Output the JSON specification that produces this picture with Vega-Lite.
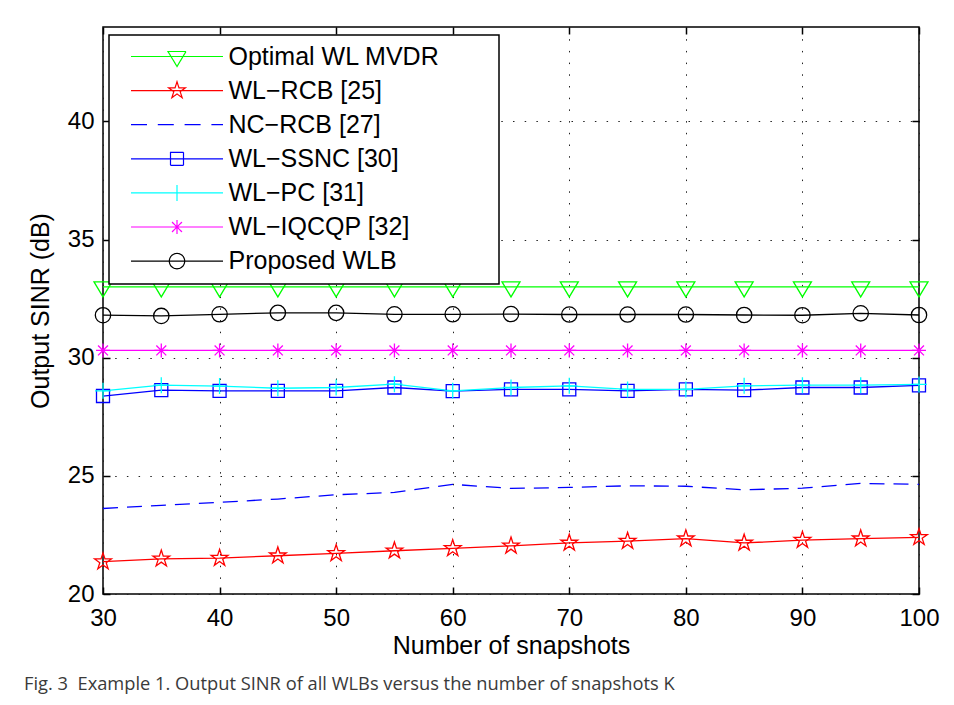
{
  "$schema": "https://vega.github.io/schema/vega-lite/v6.json",
  "width": 816,
  "height": 567,
  "autosize": "none",
  "padding": {"left": 103, "top": 27, "right": 35, "bottom": 111},
  "background": "white",
  "config": {
    "view": {"stroke": "#000", "strokeWidth": 1.5},
    "font": "Liberation Sans"
  },
  "title": {
    "text": "Fig. 3\u00a0\u00a0Example 1. Output SINR of all WLBs versus the number of snapshots K",
    "orient": "bottom",
    "anchor": "start",
    "frame": "group",
    "fontSize": 18.3,
    "font": "Open Sans",
    "fontWeight": "normal",
    "color": "#3a3a3a",
    "dx": -79,
    "offset": 18
  },
  "data": {
    "values": [
      {"K": 30, "series": "Optimal WL MVDR", "sinr": 33.0},
      {"K": 35, "series": "Optimal WL MVDR", "sinr": 33.0},
      {"K": 40, "series": "Optimal WL MVDR", "sinr": 33.0},
      {"K": 45, "series": "Optimal WL MVDR", "sinr": 33.0},
      {"K": 50, "series": "Optimal WL MVDR", "sinr": 33.0},
      {"K": 55, "series": "Optimal WL MVDR", "sinr": 33.0},
      {"K": 60, "series": "Optimal WL MVDR", "sinr": 33.0},
      {"K": 65, "series": "Optimal WL MVDR", "sinr": 33.0},
      {"K": 70, "series": "Optimal WL MVDR", "sinr": 33.0},
      {"K": 75, "series": "Optimal WL MVDR", "sinr": 33.0},
      {"K": 80, "series": "Optimal WL MVDR", "sinr": 33.0},
      {"K": 85, "series": "Optimal WL MVDR", "sinr": 33.0},
      {"K": 90, "series": "Optimal WL MVDR", "sinr": 33.0},
      {"K": 95, "series": "Optimal WL MVDR", "sinr": 33.0},
      {"K": 100, "series": "Optimal WL MVDR", "sinr": 33.0},
      {"K": 30, "series": "WL−RCB [25]", "sinr": 21.37},
      {"K": 35, "series": "WL−RCB [25]", "sinr": 21.49},
      {"K": 40, "series": "WL−RCB [25]", "sinr": 21.52},
      {"K": 45, "series": "WL−RCB [25]", "sinr": 21.62},
      {"K": 50, "series": "WL−RCB [25]", "sinr": 21.72},
      {"K": 55, "series": "WL−RCB [25]", "sinr": 21.83},
      {"K": 60, "series": "WL−RCB [25]", "sinr": 21.93},
      {"K": 65, "series": "WL−RCB [25]", "sinr": 22.04},
      {"K": 70, "series": "WL−RCB [25]", "sinr": 22.16},
      {"K": 75, "series": "WL−RCB [25]", "sinr": 22.24},
      {"K": 80, "series": "WL−RCB [25]", "sinr": 22.34},
      {"K": 85, "series": "WL−RCB [25]", "sinr": 22.16},
      {"K": 90, "series": "WL−RCB [25]", "sinr": 22.28},
      {"K": 95, "series": "WL−RCB [25]", "sinr": 22.34},
      {"K": 100, "series": "WL−RCB [25]", "sinr": 22.40},
      {"K": 30, "series": "NC−RCB [27]", "sinr": 23.62},
      {"K": 35, "series": "NC−RCB [27]", "sinr": 23.75},
      {"K": 40, "series": "NC−RCB [27]", "sinr": 23.88},
      {"K": 45, "series": "NC−RCB [27]", "sinr": 24.02},
      {"K": 50, "series": "NC−RCB [27]", "sinr": 24.20},
      {"K": 55, "series": "NC−RCB [27]", "sinr": 24.30},
      {"K": 60, "series": "NC−RCB [27]", "sinr": 24.64},
      {"K": 65, "series": "NC−RCB [27]", "sinr": 24.47},
      {"K": 70, "series": "NC−RCB [27]", "sinr": 24.51},
      {"K": 75, "series": "NC−RCB [27]", "sinr": 24.58},
      {"K": 80, "series": "NC−RCB [27]", "sinr": 24.56},
      {"K": 85, "series": "NC−RCB [27]", "sinr": 24.41},
      {"K": 90, "series": "NC−RCB [27]", "sinr": 24.48},
      {"K": 95, "series": "NC−RCB [27]", "sinr": 24.68},
      {"K": 100, "series": "NC−RCB [27]", "sinr": 24.64},
      {"K": 30, "series": "WL−SSNC [30]", "sinr": 28.38},
      {"K": 35, "series": "WL−SSNC [30]", "sinr": 28.63},
      {"K": 40, "series": "WL−SSNC [30]", "sinr": 28.60},
      {"K": 45, "series": "WL−SSNC [30]", "sinr": 28.60},
      {"K": 50, "series": "WL−SSNC [30]", "sinr": 28.60},
      {"K": 55, "series": "WL−SSNC [30]", "sinr": 28.74},
      {"K": 60, "series": "WL−SSNC [30]", "sinr": 28.59},
      {"K": 65, "series": "WL−SSNC [30]", "sinr": 28.66},
      {"K": 70, "series": "WL−SSNC [30]", "sinr": 28.66},
      {"K": 75, "series": "WL−SSNC [30]", "sinr": 28.60},
      {"K": 80, "series": "WL−SSNC [30]", "sinr": 28.66},
      {"K": 85, "series": "WL−SSNC [30]", "sinr": 28.63},
      {"K": 90, "series": "WL−SSNC [30]", "sinr": 28.74},
      {"K": 95, "series": "WL−SSNC [30]", "sinr": 28.74},
      {"K": 100, "series": "WL−SSNC [30]", "sinr": 28.83},
      {"K": 30, "series": "WL−PC [31]", "sinr": 28.60},
      {"K": 35, "series": "WL−PC [31]", "sinr": 28.84},
      {"K": 40, "series": "WL−PC [31]", "sinr": 28.80},
      {"K": 45, "series": "WL−PC [31]", "sinr": 28.71},
      {"K": 50, "series": "WL−PC [31]", "sinr": 28.74},
      {"K": 55, "series": "WL−PC [31]", "sinr": 28.88},
      {"K": 60, "series": "WL−PC [31]", "sinr": 28.60},
      {"K": 65, "series": "WL−PC [31]", "sinr": 28.74},
      {"K": 70, "series": "WL−PC [31]", "sinr": 28.81},
      {"K": 75, "series": "WL−PC [31]", "sinr": 28.66},
      {"K": 80, "series": "WL−PC [31]", "sinr": 28.66},
      {"K": 85, "series": "WL−PC [31]", "sinr": 28.81},
      {"K": 90, "series": "WL−PC [31]", "sinr": 28.84},
      {"K": 95, "series": "WL−PC [31]", "sinr": 28.84},
      {"K": 100, "series": "WL−PC [31]", "sinr": 28.87},
      {"K": 30, "series": "WL−IQCQP [32]", "sinr": 30.31},
      {"K": 35, "series": "WL−IQCQP [32]", "sinr": 30.31},
      {"K": 40, "series": "WL−IQCQP [32]", "sinr": 30.31},
      {"K": 45, "series": "WL−IQCQP [32]", "sinr": 30.31},
      {"K": 50, "series": "WL−IQCQP [32]", "sinr": 30.31},
      {"K": 55, "series": "WL−IQCQP [32]", "sinr": 30.31},
      {"K": 60, "series": "WL−IQCQP [32]", "sinr": 30.31},
      {"K": 65, "series": "WL−IQCQP [32]", "sinr": 30.31},
      {"K": 70, "series": "WL−IQCQP [32]", "sinr": 30.31},
      {"K": 75, "series": "WL−IQCQP [32]", "sinr": 30.31},
      {"K": 80, "series": "WL−IQCQP [32]", "sinr": 30.31},
      {"K": 85, "series": "WL−IQCQP [32]", "sinr": 30.31},
      {"K": 90, "series": "WL−IQCQP [32]", "sinr": 30.31},
      {"K": 95, "series": "WL−IQCQP [32]", "sinr": 30.31},
      {"K": 100, "series": "WL−IQCQP [32]", "sinr": 30.31},
      {"K": 30, "series": "Proposed WLB", "sinr": 31.80},
      {"K": 35, "series": "Proposed WLB", "sinr": 31.77},
      {"K": 40, "series": "Proposed WLB", "sinr": 31.84},
      {"K": 45, "series": "Proposed WLB", "sinr": 31.90},
      {"K": 50, "series": "Proposed WLB", "sinr": 31.90},
      {"K": 55, "series": "Proposed WLB", "sinr": 31.84},
      {"K": 60, "series": "Proposed WLB", "sinr": 31.84},
      {"K": 65, "series": "Proposed WLB", "sinr": 31.85},
      {"K": 70, "series": "Proposed WLB", "sinr": 31.83},
      {"K": 75, "series": "Proposed WLB", "sinr": 31.83},
      {"K": 80, "series": "Proposed WLB", "sinr": 31.83},
      {"K": 85, "series": "Proposed WLB", "sinr": 31.81},
      {"K": 90, "series": "Proposed WLB", "sinr": 31.80},
      {"K": 95, "series": "Proposed WLB", "sinr": 31.88},
      {"K": 100, "series": "Proposed WLB", "sinr": 31.81}
    ]
  },
  "resolve": {"axis": {"x": "independent", "y": "independent"}},
  "layer": [
    {
      "transform": [{"filter": "datum.series !== 'NC−RCB [27]'"}],
      "mark": {"type": "line", "strokeWidth": 1.3},
      "encoding": {
        "x": {
          "field": "K", "type": "quantitative",
          "scale": {"domain": [30, 100], "nice": false, "zero": false},
          "axis": {
            "orient": "bottom",
            "values": [30, 40, 50, 60, 70, 80, 90, 100],
            "grid": true, "gridDash": [1.5, 10.2], "gridColor": "#222", "gridWidth": 1,
            "domain": false,
            "tickSize": -7, "tickColor": "#000", "tickWidth": 1.5,
            "labelPadding": 19, "labelFontSize": 24, "labelColor": "#000", "labelFont": "Liberation Sans", "labelFlush": false,
            "title": "Number of snapshots", "titleFontSize": 25, "titleFontWeight": "normal", "titleColor": "#000", "titleFont": "Liberation Sans", "titlePadding": 3
          }
        },
        "y": {
          "field": "sinr", "type": "quantitative",
          "scale": {"domain": [20, 44], "nice": false, "zero": false},
          "axis": {
            "orient": "left",
            "values": [20, 25, 30, 35, 40],
            "grid": true, "gridDash": [1.5, 10.2], "gridColor": "#222", "gridWidth": 1,
            "domain": false,
            "tickSize": -7, "tickColor": "#000", "tickWidth": 1.5,
            "labelPadding": 16, "labelFontSize": 24, "labelColor": "#000", "labelFont": "Liberation Sans", "labelFlush": false,
            "title": "Output SINR (dB)", "titleFontSize": 25, "titleFontWeight": "normal", "titleColor": "#000", "titleFont": "Liberation Sans", "titlePadding": 14
          }
        },
        "color": {
          "field": "series", "type": "nominal",
          "scale": {
            "domain": ["Optimal WL MVDR", "WL−RCB [25]", "NC−RCB [27]", "WL−SSNC [30]", "WL−PC [31]", "WL−IQCQP [32]", "Proposed WLB"],
            "range": ["#00ff00", "#ff0000", "#0000ff", "#0000ff", "#00ffff", "#ff00ff", "#000000"]
          },
          "legend": {
            "orient": "none", "legendX": 6, "legendY": 8,
            "title": null,
            "fillColor": "white", "strokeColor": "#000",
            "padding": 9,
            "labelFontSize": 25, "labelFont": "Liberation Sans", "labelColor": "#000", "labelLimit": 0,
            "symbolSize": 256, "symbolOffset": 46.5, "labelOffset": 39,
            "rowPadding": 8.1,
            "encode": {
              "legend": {"update": {"strokeWidth": {"value": 1.5}}},
              "symbols": {
                "update": {
                  "fill": {"value": "transparent"},
                  "strokeWidth": {"value": 1.2},
                  "strokeDash": {"value": [1, 0]},
                  "shape": {"signal": "datum.value === 'Optimal WL MVDR' ? 'M-5.75,0L5.75,0M-1.125,-0.625L1.125,-0.625L0,1.25ZM38.75,0' : datum.value === 'WL−RCB [25]' ? 'M-5.75,0L5.75,0M0,-1.1L0.247,-0.34L1.046,-0.34L0.399,0.13L0.647,0.89L0,0.42L-0.647,0.89L-0.399,0.13L-1.046,-0.34L-0.247,-0.34ZM38.75,0' : datum.value === 'NC−RCB [27]' ? 'M-5.75,0L-3.75,0M-2.4,0L-0.4,0M0.95,0L2.95,0M4.3,0L5.75,0M38.75,0' : datum.value === 'WL−SSNC [30]' ? 'M-5.75,0L5.75,0M-0.8125,-0.8125L0.8125,-0.8125L0.8125,0.8125L-0.8125,0.8125ZM38.75,0' : datum.value === 'WL−PC [31]' ? 'M-5.75,0L5.75,0M0,-1L0,1M38.75,0' : datum.value === 'WL−IQCQP [32]' ? 'M-5.75,0L5.75,0M0,-0.875L0,0.875M-0.62,-0.62L0.62,0.62M-0.62,0.62L0.62,-0.62M38.75,0' : 'M-5.75,0L5.75,0M0.96,0A0.96,0.96,0,1,1,-0.96,0A0.96,0.96,0,1,1,0.96,0ZM38.75,0'"}
                }
              }
            }
          }
        }
      }
    },
    {
      "transform": [{"filter": "datum.series === 'NC−RCB [27]'"}],
      "mark": {"type": "line", "strokeWidth": 1.3, "strokeDash": [15, 9]},
      "encoding": {
        "x": {"field": "K", "type": "quantitative", "axis": null},
        "y": {"field": "sinr", "type": "quantitative", "axis": null},
        "color": {"field": "series", "type": "nominal", "legend": null}
      }
    },
    {
      "transform": [{"filter": "datum.series !== 'NC−RCB [27]'"}],
      "mark": {"type": "point", "filled": false, "strokeWidth": 1.3, "size": 256, "opacity": 1},
      "encoding": {
        "x": {
          "field": "K", "type": "quantitative",
          "axis": {"orient": "top", "values": [30, 40, 50, 60, 70, 80, 90, 100], "labels": false, "grid": false, "domain": false, "tickSize": -7, "tickColor": "#000", "tickWidth": 1.5, "title": null}
        },
        "y": {
          "field": "sinr", "type": "quantitative",
          "axis": {"orient": "right", "values": [20, 25, 30, 35, 40], "labels": false, "grid": false, "domain": false, "tickSize": -7, "tickColor": "#000", "tickWidth": 1.5, "title": null}
        },
        "color": {"field": "series", "type": "nominal", "legend": null},
        "shape": {
          "field": "series", "type": "nominal",
          "scale": {
            "domain": ["Optimal WL MVDR", "WL−RCB [25]", "WL−SSNC [30]", "WL−PC [31]", "WL−IQCQP [32]", "Proposed WLB"],
            "range": [
              "M-1.125,-0.625L1.125,-0.625L0,1.25Z",
              "M0,-1.1L0.247,-0.34L1.046,-0.34L0.399,0.13L0.647,0.89L0,0.42L-0.647,0.89L-0.399,0.13L-1.046,-0.34L-0.247,-0.34Z",
              "M-0.8125,-0.8125L0.8125,-0.8125L0.8125,0.8125L-0.8125,0.8125Z",
              "M-1,0L1,0M0,-1L0,1",
              "M-0.875,0L0.875,0M0,-0.875L0,0.875M-0.62,-0.62L0.62,0.62M-0.62,0.62L0.62,-0.62",
              "M0.96,0A0.96,0.96,0,1,1,-0.96,0A0.96,0.96,0,1,1,0.96,0Z"
            ]
          },
          "legend": null
        }
      }
    }
  ]
}
